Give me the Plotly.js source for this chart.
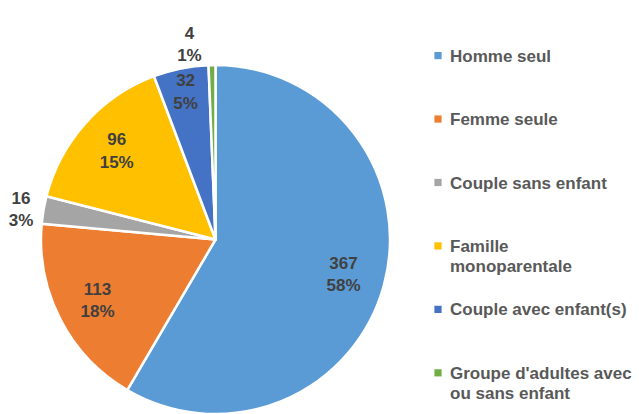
<!DOCTYPE html>
<html>
<head>
<meta charset="utf-8">
<script src="https://cdn.plot.ly/plotly-3.0.1.min.js"></script>
<style>
  html, body { margin: 0; padding: 0; background: #ffffff; }
  #chart { width: 639px; height: 414px; }
</style>
</head>
<body>
<div id="chart"></div>
<script>
// ---- data ----
const categories = [
  'Homme seul',
  'Femme seule',
  'Couple sans enfant',
  'Famille<br>monoparentale',
  'Couple avec enfant(s)',
  "Groupe d'adultes avec<br>ou sans enfant"
];
const values = [367, 113, 16, 96, 32, 4];
const colors = ['#5B9BD5', '#ED7D31', '#A5A5A5', '#FFC000', '#4472C4', '#70AD47'];
const labelPositions = ['inside', 'inside', 'outside', 'inside', 'inside', 'outside'];

// legend labels: pad entries to three lines so that items are evenly spaced
// (the last entry needs no padding below it)
const legendLabels = categories.map((c, i) => {
  const lines = c.split('<br>').map(l => '<span style="font-size:17px">' + l + '</span>');
  if (i < categories.length - 1) {
    while (lines.length < 3) lines.push('\u00a0');
  }
  return lines.join('<br>');
});

const FONT = '"Liberation Sans", Arial, sans-serif';
const pieDomain = { x: [40.5 / 639, 390.5 / 639], y: [0, 349 / 414] };
const labelFont = { family: FONT, size: 17, color: '#404040', weight: 'bold' };

// the visible pie (slices + legend)
const pie = {
  type: 'pie',
  labels: legendLabels,
  values: values,
  sort: false,
  direction: 'clockwise',
  rotation: 0,
  marker: { colors: colors, line: { color: '#ffffff', width: 2.5 } },
  textinfo: 'none',
  domain: pieDomain,
  hoverinfo: 'label+value+percent'
};

// transparent ring over the pie that carries the data labels
// (the ring pushes the inside labels outward, as in the reference)
const labelRing = {
  type: 'pie',
  labels: legendLabels,
  values: values,
  sort: false,
  direction: 'clockwise',
  rotation: 0,
  hole: 0.52,
  marker: { colors: values.map(() => 'rgba(0,0,0,0)'), line: { width: 0 } },
  texttemplate: '%{value}<br>%{percent:.0%}',
  textposition: labelPositions,
  insidetextorientation: 'horizontal',
  textfont: labelFont,
  insidetextfont: labelFont,
  outsidetextfont: labelFont,
  domain: pieDomain,
  showlegend: false,
  hoverinfo: 'skip'
};

const layout = {
  width: 639,
  height: 414,
  margin: { l: 0, r: 0, t: 0, b: 0 },
  paper_bgcolor: '#ffffff',
  showlegend: true,
  legend: {
    x: 410 / 639,
    xanchor: 'left',
    y: 1 - 39 / 414,
    yanchor: 'top',
    valign: 'top',
    font: { family: FONT, size: 15.5, color: '#595959', weight: 'bold' },
    bgcolor: 'rgba(0,0,0,0)'
  }
};

function tweakLegend() {
  document.querySelectorAll('#chart .legend path.legendpie').forEach(p => {
    p.setAttribute('transform', 'translate(28,0) scale(0.6)');
    p.style.strokeWidth = '0';
  });
}

const gd = document.getElementById('chart');
Plotly.newPlot(gd, [pie, labelRing], layout, { displayModeBar: false, staticPlot: true }).then(() => {
  tweakLegend();
  gd.on('plotly_afterplot', tweakLegend);
});
</script>
</body>
</html>
